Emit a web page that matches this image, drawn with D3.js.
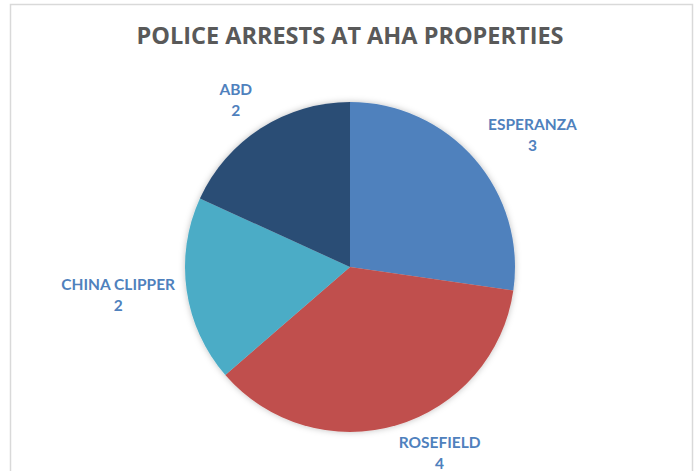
<!DOCTYPE html>
<html>
<head>
<meta charset="utf-8">
<script src="https://cdn.jsdelivr.net/npm/d3@7"></script>
<style>
  body { margin: 0; background: #fff; }
  svg { display: block; }
</style>
</head>
<body>
<script>
const properties = ["ESPERANZA", "ROSEFIELD", "CHINA CLIPPER", "ABD"];
const arrests = [3, 4, 2, 2];
const sliceColors = ["#4f81bd", "#c0504d", "#4bacc6", "#2c4d75"];
// small hand nudges so labels sit like Excel's "best fit"
const labelNudge = [[20, 8], [29, -21], [-19, -4], [2, 13]];

const width = 697, height = 471;
const cx = 350, cy = 267, radius = 165;

const svg = d3.select("body").append("svg")
  .attr("width", width)
  .attr("height", height);

const defs = svg.append("defs");
const shadow = defs.append("filter").attr("id", "shadow")
  .attr("x", "-20%").attr("y", "-20%").attr("width", "140%").attr("height", "140%");
shadow.append("feDropShadow")
  .attr("dx", 0).attr("dy", 0)
  .attr("stdDeviation", 3)
  .attr("flood-color", "#000")
  .attr("flood-opacity", 0.25);

// chart area border (bottom is cut off in the picture)
svg.append("rect")
  .attr("x", 10.5).attr("y", 4.5)
  .attr("width", 682).attr("height", 500)
  .attr("fill", "none")
  .attr("stroke", "#d9d9d9")
  .attr("stroke-width", 1.5);

svg.append("text")
  .attr("x", 350).attr("y", 44)
  .attr("text-anchor", "middle")
  .attr("font-family", "'Open Sans', Lato, sans-serif")
  .attr("font-weight", "bold")
  .attr("font-size", 23.5)
  .attr("fill", "#595959")
  .text("POLICE ARRESTS AT AHA PROPERTIES");

const pie = d3.pie().sort(null).value(d => d);
const arcs = pie(arrests);
const arc = d3.arc().innerRadius(0).outerRadius(radius);

const g = svg.append("g").attr("transform", `translate(${cx},${cy})`);

g.append("g").attr("filter", "url(#shadow)")
  .selectAll("path")
  .data(arcs)
  .join("path")
  .attr("d", arc)
  .attr("fill", (d, i) => sliceColors[i]);

const labelArc = d3.arc().innerRadius(215).outerRadius(215);

const labels = g.selectAll("g.lbl")
  .data(arcs)
  .join("g")
  .attr("class", "lbl")
  .attr("transform", (d, i) => {
    const c = labelArc.centroid(d);
    return `translate(${c[0] + labelNudge[i][0]},${c[1] + labelNudge[i][1]})`;
  });

labels.append("text")
  .attr("y", -4)
  .attr("text-anchor", "middle")
  .attr("font-family", "Lato, 'Open Sans', sans-serif")
  .attr("font-weight", "bold")
  .attr("font-size", 15.5)
  .attr("fill", "#4f81bd")
  .text((d, i) => properties[i]);

labels.append("text")
  .attr("y", 17)
  .attr("text-anchor", "middle")
  .attr("font-family", "Lato, 'Open Sans', sans-serif")
  .attr("font-weight", "bold")
  .attr("font-size", 15.5)
  .attr("fill", "#4f81bd")
  .text(d => d.data);
</script>
</body>
</html>
